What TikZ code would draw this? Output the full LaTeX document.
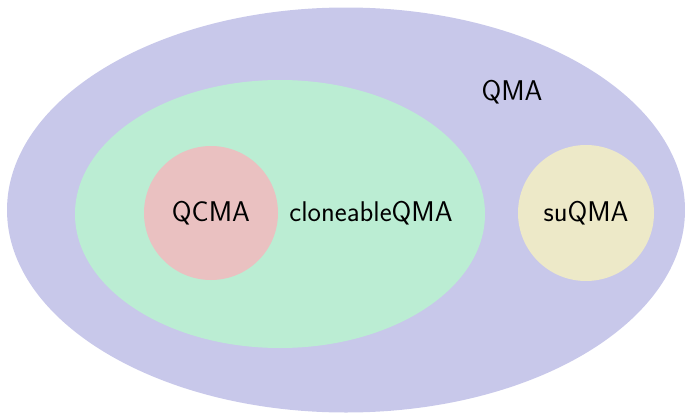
\documentclass[tikz,border=0pt]{standalone}
\usetikzlibrary{shapes.geometric}
\definecolor{qmablue}{HTML}{C8C8EA}
\definecolor{clonegreen}{HTML}{BBEDD3}
\definecolor{qcmared}{HTML}{EAC1C1}
\definecolor{suyellow}{HTML}{EDE9C8}

\begin{document}
\begin{tikzpicture}[x=1pt,y=-1pt,
  every node/.style={inner sep=0pt,font=\sffamily\fontsize{28.5}{33}\selectfont},
  set/.style={ellipse,draw=none}]
\useasboundingbox (0,0) rectangle (685,415);
\node[set,fill=qmablue,minimum width=678pt,minimum height=405pt] (qma) at (346,210) {};
\node[set,fill=clonegreen,minimum width=410pt,minimum height=268pt] (clone) at (280,214) {};
\node[circle,fill=qcmared,minimum size=134pt] (qcma) at (211,213) {QCMA};
\node[circle,fill=suyellow,minimum size=136pt] (suqma) at (586,213) {suQMA};
\node (qmalab) at (512,92) {QMA};
\node (clonelab) at (371,213) {cloneableQMA};
\end{tikzpicture}
\end{document}
